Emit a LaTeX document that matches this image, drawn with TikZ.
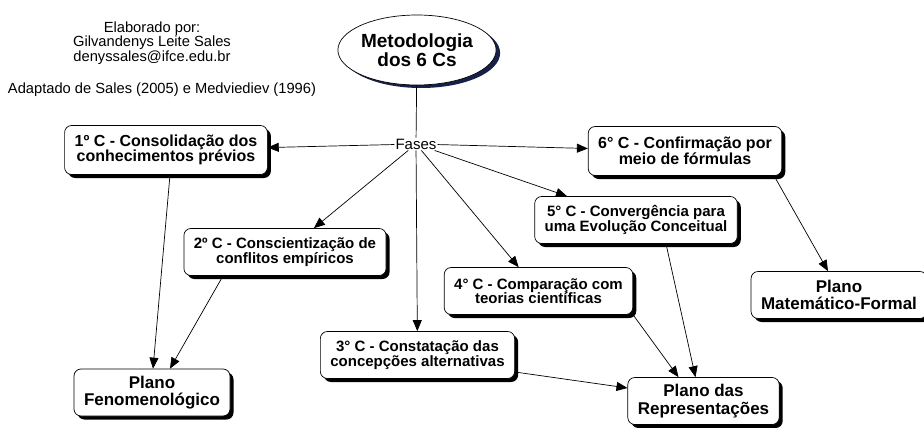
\documentclass[tikz,border=0pt]{standalone}
\usepackage{fontspec}
\setmainfont{Liberation Sans}
\usetikzlibrary{arrows.meta,shadows,shapes.geometric}
\definecolor{sombra}{RGB}{22,32,72}

\begin{document}
\begin{tikzpicture}[x=1pt,y=-1pt,
    fase/.style={draw, fill=white, rounded corners=7pt, line width=0.7pt,
        align=center, minimum height=47pt, inner xsep=10pt,
        font=\bfseries\fontsize{15}{14.5}\selectfont,
        drop shadow={shadow xshift=3.5pt, shadow yshift=-3.5pt, fill=black, opacity=1}},
    maior/.style={font=\bfseries\fontsize{16}{15.5}\selectfont, minimum height=49pt},
    plano/.style={fase, font=\bfseries\fontsize{17}{17.5}\selectfont},
    seta/.style={-{Triangle[length=11pt,width=9pt]}, line width=0.7pt}]
    \useasboundingbox (0,0) rectangle (924,428);
    \node[align=center, font=\fontsize{14.7}{14.3}\selectfont] (cred) at (152,43) {Elaborado por:\\Gilvandenys Leite Sales\\denyssales@ifce.edu.br};
    \node[anchor=base, font=\fontsize{14.7}{14.3}\selectfont] (fonte) at (162,94) {Adaptado de Sales (2005) e Medviediev (1996)};
    \node[ellipse, draw, fill=white, line width=0.7pt, minimum width=146pt, minimum height=70pt, inner sep=0pt,
        align=center, font=\bfseries\fontsize{19}{18.5}\selectfont,
        drop shadow={shadow xshift=4pt, shadow yshift=-3pt, fill=sombra, opacity=1}] (m) at (417,50) {Metodologia\\dos 6 Cs};
    \node[font=\fontsize{15}{15}\selectfont, inner sep=1pt] (f) at (416,144) {Fases};
    % as seis fases
    \node[fase, maior] (c1) at (166,150) {1º C - Consolidação dos\\conhecimentos prévios};
    \node[fase] (c2) at (285,252) {2º C - Conscientização de\\conflitos empíricos};
    \node[fase] (c3) at (417.5,355) {3° C - Constatação das\\concepções alternativas};
    \node[fase] (c4) at (538.5,291) {4° C - Comparação com\\teorias científicas};
    \node[fase] (c5) at (636,220) {5° C - Convergência para\\uma Evolução Conceitual};
    \node[fase, maior] (c6) at (685,151) {6° C - Confirmação por\\meio de fórmulas};
    % os tres planos
    \node[plano] (pf) at (152,392.5) {Plano\\Fenomenológico};
    \node[plano] (pm) at (839,295) {Plano\\Matemático-Formal};
    \node[plano] (pr) at (703.5,401) {Plano das\\Representações};
    \draw[line width=0.7pt] (m) -- (f);
    \draw[seta] (f) -- (c1);
    \draw[seta] (f) -- (c2);
    \draw[seta] (f) -- (c3);
    \draw[seta] (f) -- (c4);
    \draw[seta] (f) -- (c5);
    \draw[seta] (f) -- (c6);
    \draw[seta] ([xshift=4pt]c1.south) -- ([xshift=1pt]pf.north);
    \draw[seta] ([xshift=-62pt]c2.south) -- ([xshift=18pt]pf.north);
    \draw[seta] ([yshift=-17pt]c3.east) -- ([yshift=13pt]pr.west);
    \draw[seta] (c4.south east) -- ([xshift=-25pt]pr.north);
    \draw[seta] ([xshift=30pt]c5.south) -- ([xshift=-8pt]pr.north);
    \draw[seta] ([xshift=-8pt]c6.south east) -- ([xshift=-11pt]pm.north);
\end{tikzpicture}
\end{document}
